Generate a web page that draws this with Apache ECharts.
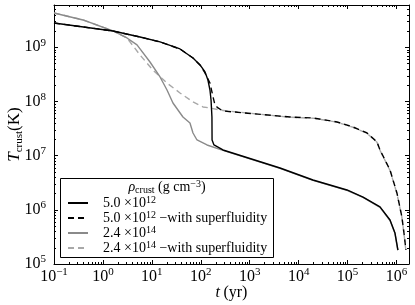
<!DOCTYPE html>
<html><head><meta charset="utf-8">
<script src="https://cdn.jsdelivr.net/npm/echarts@6/dist/echarts.min.js"></script>
<style>html,body{margin:0;padding:0;background:#fff}#c{width:415px;height:305px}</style>
</head><body><div id="c"></div>
<script>
// ---- data (t in yr, T_crust in K) ----
const seriesNames = ['5.0 ×10^12', '5.0 ×10^12 −with superfluidity', '2.4 ×10^14', '2.4 ×10^14 −with superfluidity'];
const blackSolid = [[0.1,2.79e9],[1.61,1.99e9],[5.73,1.54e9],[14.7,1.25e9],[37.6,9.27e8],[69.3,6.32e8],[96.4,4.70e8],[122,3.49e8],[140,2.48e8],[154,1.62e8],[162,1.06e8],[169,5.15e7],[170,1.94e7],[186,1.57e7],[284,1.27e7],[4160,5.9e6],[1.96e4,3.55e6],[9.72e4,2.32e6],[2.07e5,1.72e6],[4.6e5,1.13e6],[7.37e5,6.49e5],[9.31e5,3.73e5],[1.07e6,1.81e5]];
const blackDashed = [[0.1,2.79e9],[1.61,1.99e9],[5.73,1.54e9],[14.7,1.25e9],[37.6,9.27e8],[69.3,6.32e8],[96.4,4.70e8],[122,3.34e8],[154,2.18e8],[178,1.21e8],[195,8.59e7],[225,7.56e7],[284,6.65e7],[6650,5.15e7],[1.96e4,4.94e7],[6.08e4,4.17e7],[1.29e5,3.37e7],[2.5e5,2.61e7],[3.99e5,1.78e7],[4.6e5,1.27e7],[7.37e5,5.42e6],[1.02e6,2.04e6],[1.29e6,7.37e5],[1.42e6,3.73e5],[1.56e6,1.81e5]];
const graySolid = [[0.1,4.28e9],[0.392,3.18e9],[1.61,1.99e9],[3.10,1.48e9],[4.97,1.10e9],[9.16,5.33e8],[14.7,2.82e8],[20.4,1.62e8],[27.0,9.33e7],[43.2,5.15e7],[60.1,3.99e7],[69.3,2.61e7],[83.7,1.94e7],[134,1.57e7],[284,1.25e7],[4160,5.8e6],[1.96e4,3.5e6],[9.72e4,2.28e6],[2.07e5,1.69e6],[4.6e5,1.11e6],[7.37e5,6.35e5],[9.31e5,3.65e5],[1.06e6,1.81e5]];
const grayDashed = [[0.1,4.28e9],[0.392,3.18e9],[1.61,1.99e9],[3.10,1.48e9],[5.73,7.18e8],[10.5,3.79e8],[20.4,2.18e8],[37.6,1.43e8],[69.3,9.75e7],[111,7.89e7],[154,7.56e7],[247,6.93e7],[344,6.65e7],[6650,5.1e7],[1.96e4,4.9e7],[6.08e4,4.13e7],[1.29e5,3.33e7],[2.5e5,2.58e7],[3.99e5,1.76e7],[4.6e5,1.25e7],[7.37e5,5.3e6],[1.02e6,2.0e6],[1.29e6,7.2e5],[1.42e6,3.65e5],[1.55e6,1.81e5]];
const xMin = 0.1, xMax = 1.8e6, yMin = 1e5, yMax = 6e9;
const minorMultipliers = [2,3,4,5,6,7,8,9];

const FONT = 'Liberation Serif';
function powLabel(v){
  const e = Math.log10(v), r = Math.round(e);
  if (Math.abs(e - r) > 1e-6) return '';
  return '{b|10}{s|' + (r < 0 ? '\u2212' + (-r) : r) + '}';
}
const labelRich = {
  b:{fontFamily:FONT,fontSize:16,lineHeight:20,color:'#000'},
  s:{fontFamily:FONT,fontSize:11,lineHeight:11,verticalAlign:'top',color:'#000'}
};
function axisCommon(labels, margin){
  return {
    axisLine:{show:true,onZero:false,lineStyle:{color:'#000',width:1}},
    axisTick:{show:true,inside:true,length:4,lineStyle:{color:'#000',width:1}},
    minorTick:{show:false}, splitLine:{show:false},
    axisLabel:{show:labels,margin:margin,formatter:powLabel,rich:labelRich,color:'#000'}
  };
}
const xAxes = [
  Object.assign({type:'log',logBase:10,position:'bottom',min:xMin,max:xMax,interval:1,
    name:'{i|t} {n|(yr)}',nameLocation:'middle',nameGap:19,nameMoveOverlap:false,
    nameTextStyle:{color:'#000',rich:{i:{fontFamily:FONT,fontStyle:'italic',fontSize:16,lineHeight:20},n:{fontFamily:FONT,fontSize:16,lineHeight:20}}}
  }, axisCommon(true,3)),
  Object.assign({type:'log',logBase:10,position:'top',min:xMin,max:xMax,interval:1}, axisCommon(false,3))
];
const yAxes = [
  Object.assign({type:'log',logBase:10,position:'left',min:yMin,max:yMax,interval:1,
    name:'{i|T}{sub|crust}{n|(K)}',nameLocation:'middle',nameGap:29,nameRotate:90,nameMoveOverlap:false,
    nameTextStyle:{color:'#000',rich:{
      i:{fontFamily:FONT,fontStyle:'italic',fontSize:17,lineHeight:20},
      sub:{fontFamily:FONT,fontSize:11,lineHeight:11,verticalAlign:'bottom'},
      n:{fontFamily:FONT,fontSize:17,lineHeight:20}}}
  }, axisCommon(true,8)),
  Object.assign({type:'log',logBase:10,position:'right',min:yMin,max:yMax,interval:1}, axisCommon(false,8))
];

function mkSeries(name, data, color, width, dashed, z){
  return {name:name,type:'line',data:data,xAxisIndex:0,yAxisIndex:0,symbol:'none',showSymbol:false,
    animation:false,z:z,itemStyle:{color:color},
    lineStyle:{color:color,width:width,type:dashed?[6,4]:'solid'}};
}

const chart = echarts.init(document.getElementById('c'), null, {renderer:'canvas'});
chart.setOption({
  animation:false,
  backgroundColor:'#fff',
  grid:{left:54,right:6,top:5,bottom:41,outerBoundsMode:'none',containLabel:false},
  xAxis:xAxes, yAxis:yAxes,
  legend:{
    orient:'vertical',left:67,top:195,padding:0,itemGap:0,itemWidth:20,itemHeight:16,
    selectedMode:false,data:seriesNames,
    itemStyle:{opacity:0},
    textStyle:{color:'#000',fontFamily:FONT,fontSize:14,padding:[0,0,0,10],rich:{
      b:{fontFamily:FONT,fontSize:14,lineHeight:16,color:'#000'},
      s:{fontFamily:FONT,fontSize:10,lineHeight:10,verticalAlign:'top',color:'#000'}}},
    formatter:function(name){
      return '{b|' + name.replace(/\^(\d+)/, function(m,e){return '}{s|'+e+'}{b|';}) + '}';
    }
  },
  series:[
    mkSeries(seriesNames[3], grayDashed, '#a8a8a8', 1.4, true, 2),
    mkSeries(seriesNames[2], graySolid, '#8a8a8a', 1.4, false, 3),
    mkSeries(seriesNames[1], blackDashed, '#000', 1.4, true, 4),
    mkSeries(seriesNames[0], blackSolid, '#000', 1.4, false, 5)
  ],
  graphic:[
    {id:'legendBox',type:'rect',z:1,shape:{x:60.5,y:178.5,width:213,height:79},style:{fill:'#fff',stroke:'#000',lineWidth:1}},
    {id:'legendTitle',type:'text',z:5,x:167,y:187,style:{
      text:'{i|\u03C1}{sub|crust}{n| (g cm}{sup|\u22123}{n|)}',align:'center',verticalAlign:'middle',fill:'#000',
      rich:{
        i:{fontFamily:FONT,fontStyle:'italic',fontSize:14,lineHeight:16},
        sub:{fontFamily:FONT,fontSize:10,lineHeight:9,verticalAlign:'bottom'},
        n:{fontFamily:FONT,fontSize:14,lineHeight:16},
        sup:{fontFamily:FONT,fontSize:10,lineHeight:9,verticalAlign:'top'}}}}
  ]
});

// minor ticks positioned through the axes' own scales
const px = v => chart.convertToPixel({xAxisIndex:0}, v);
const py = v => chart.convertToPixel({yAxisIndex:0}, v);
const L = px(xMin), R = px(xMax), T = py(yMax), B = py(yMin);
const ticks = [];
let k = 0;
for (let d = -1; d <= 6; d++) for (const m of minorMultipliers) {
  const v = m * Math.pow(10, d);
  if (v <= xMin || v >= xMax) continue;
  const x = Math.round(px(v)) + 0.5;
  ticks.push({id:'mx'+(k++),type:'line',z:6,silent:true,shape:{x1:x,y1:B,x2:x,y2:B-2},style:{stroke:'#000',lineWidth:1}});
  ticks.push({id:'mx'+(k++),type:'line',z:6,silent:true,shape:{x1:x,y1:T,x2:x,y2:T+2},style:{stroke:'#000',lineWidth:1}});
}
for (let d = 5; d <= 9; d++) for (const m of minorMultipliers) {
  const v = m * Math.pow(10, d);
  if (v <= yMin || v >= yMax) continue;
  const y = Math.round(py(v)) + 0.5;
  ticks.push({id:'mx'+(k++),type:'line',z:6,silent:true,shape:{x1:L,y1:y,x2:L+2,y2:y},style:{stroke:'#000',lineWidth:1}});
  ticks.push({id:'mx'+(k++),type:'line',z:6,silent:true,shape:{x1:R,y1:y,x2:R-2,y2:y},style:{stroke:'#000',lineWidth:1}});
}
chart.setOption({graphic:ticks});
</script></body></html>
